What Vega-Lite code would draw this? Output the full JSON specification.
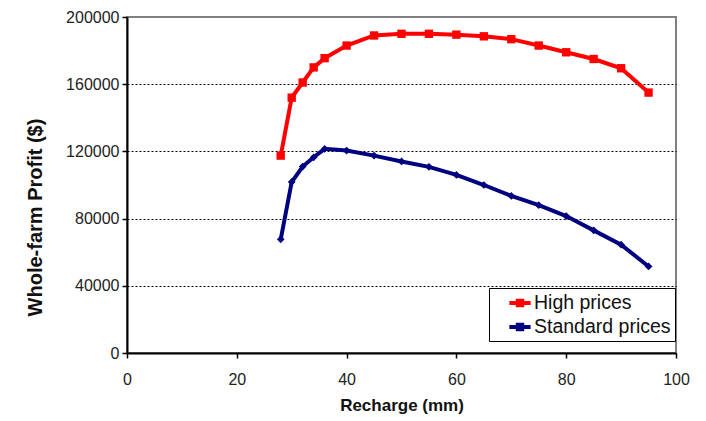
{
  "$schema": "https://vega.github.io/schema/vega-lite/v6.json",
  "autosize": "none",
  "width": 549,
  "height": 336,
  "padding": {"left": 127, "top": 17, "right": 30, "bottom": 68},
  "background": "white",
  "config": {
    "font": "Liberation Sans",
    "view": {"stroke": "#808080", "strokeWidth": 2},
    "axis": {
      "domainColor": "black", "domainWidth": 2,
      "tickColor": "black", "tickWidth": 1.5,
      "labelFont": "Liberation Sans", "labelFontSize": 16, "labelColor": "#222",
      "titleFont": "Liberation Sans", "titleFontWeight": "bold", "titleColor": "#111"
    }
  },
  "data": {"values": [
    {"r": 28, "p": 117500, "s": "High prices"},
    {"r": 30, "p": 152000, "s": "High prices"},
    {"r": 32, "p": 161000, "s": "High prices"},
    {"r": 34, "p": 170000, "s": "High prices"},
    {"r": 36, "p": 175500, "s": "High prices"},
    {"r": 40, "p": 183000, "s": "High prices"},
    {"r": 45, "p": 189000, "s": "High prices"},
    {"r": 50, "p": 190000, "s": "High prices"},
    {"r": 55, "p": 190000, "s": "High prices"},
    {"r": 60, "p": 189500, "s": "High prices"},
    {"r": 65, "p": 188500, "s": "High prices"},
    {"r": 70, "p": 186800, "s": "High prices"},
    {"r": 75, "p": 183000, "s": "High prices"},
    {"r": 80, "p": 179000, "s": "High prices"},
    {"r": 85, "p": 175000, "s": "High prices"},
    {"r": 90, "p": 169500, "s": "High prices"},
    {"r": 95, "p": 155000, "s": "High prices"},
    {"r": 28, "p": 67700, "s": "Standard prices"},
    {"r": 30, "p": 101800, "s": "Standard prices"},
    {"r": 32, "p": 111000, "s": "Standard prices"},
    {"r": 34, "p": 116500, "s": "Standard prices"},
    {"r": 36, "p": 121500, "s": "Standard prices"},
    {"r": 40, "p": 120500, "s": "Standard prices"},
    {"r": 45, "p": 117500, "s": "Standard prices"},
    {"r": 50, "p": 114000, "s": "Standard prices"},
    {"r": 55, "p": 110800, "s": "Standard prices"},
    {"r": 60, "p": 106000, "s": "Standard prices"},
    {"r": 65, "p": 100000, "s": "Standard prices"},
    {"r": 70, "p": 93500, "s": "Standard prices"},
    {"r": 75, "p": 88000, "s": "Standard prices"},
    {"r": 80, "p": 81500, "s": "Standard prices"},
    {"r": 85, "p": 73000, "s": "Standard prices"},
    {"r": 90, "p": 64500, "s": "Standard prices"},
    {"r": 95, "p": 51500, "s": "Standard prices"}
  ]},
  "encoding": {
    "x": {"field": "r", "type": "quantitative", "title": "Recharge (mm)",
      "scale": {"domain": [0, 100], "nice": false},
      "axis": {"values": [0, 20, 40, 60, 80, 100], "grid": false, "tickSize": 5, "labelFlush": false, "labelPadding": 13, "titlePadding": 10, "titleFontSize": 17}},
    "y": {"field": "p", "type": "quantitative", "title": "Whole-farm Profit ($)",
      "scale": {"domain": [0, 200000], "nice": false},
      "axis": {"values": [0, 40000, 80000, 120000, 160000, 200000], "format": "d", "grid": true,
        "gridColor": "black", "gridDash": [2, 2], "gridWidth": 1,
        "gridOpacity": {"condition": {"test": "datum.value == 0 || datum.value == 200000", "value": 0}, "value": 1},
        "tickSize": 5, "labelPadding": 3, "labelFlush": false, "titleFontSize": 20,
        "titleX": -92, "titleY": 200, "titleAngle": -90, "titleBaseline": "middle", "titleAlign": "center"}}
  },
  "layer": [
    {"mark": {"type": "line", "strokeWidth": 4},
     "encoding": {
      "color": {"field": "s", "type": "nominal",
      "scale": {"domain": ["High prices", "Standard prices"], "range": ["#FF0000", "#000080"]},
      "legend": {"title": null, "orient": "none", "legendX": 362, "legendY": 271,
        "strokeColor": "black", "fillColor": "white", "padding": 4,
        "symbolOffset": 16,
        "symbolType": "M-1,-0.2H1V0.2H-1Z M-0.4,-0.4H0.4V0.4H-0.4Z",
        "symbolSize": 450, "symbolOpacity": 1, "symbolStrokeWidth": 0,
        "labelFont": "Liberation Sans", "labelFontSize": 19.5, "labelColor": "#111",
        "labelOffset": 3, "rowPadding": 3, "labelLimit": 250,
        "encode": {"symbols": {"update": {
          "fill": {"scale": "color", "field": "value"},
          "opacity": {"value": 1}}}}}}}},
    {"transform": [{"filter": "datum.s === 'High prices'"}],
     "mark": {"type": "point", "filled": true, "opacity": 1, "shape": "square", "size": 70, "color": "#FF0000"}},
    {"transform": [{"filter": "datum.s === 'Standard prices'"}],
     "mark": {"type": "point", "filled": true, "opacity": 1, "shape": "diamond", "size": 60, "color": "#000080"}}
  ]
}
